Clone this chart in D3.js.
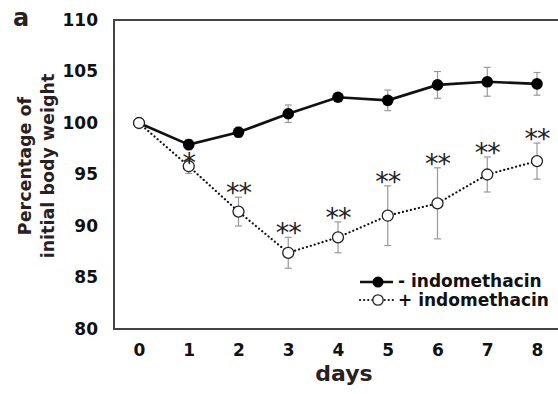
<!DOCTYPE html>
<html><head><meta charset="utf-8">
<script src="https://cdn.jsdelivr.net/npm/d3@7"></script>
<style>
html,body{margin:0;padding:0;background:#fff;}
svg{display:block;font-family:"DejaVu Sans",sans-serif;}
</style></head>
<body><svg id="c" width="558" height="394"></svg>
<script>
const days = [0,1,2,3,4,5,6,7,8];
const yTicks = [80,85,90,95,100,105,110];
const minusMean = [100,97.9,99.1,100.9,102.5,102.2,103.7,104.0,103.8];
const minusErr  = [0,0.5,0.5,0.85,0.3,1.0,1.3,1.4,1.1];
const plusMean  = [100,95.8,91.4,87.4,88.9,91.0,92.2,95.0,96.3];
const plusErr   = [0,0.7,1.4,1.5,1.5,2.9,3.45,1.7,1.75];
const stars     = ["","*","**","**","**","**","**","**","**"];
const seriesNames = ["- indomethacin","+ indomethacin"];

const FONT = "DejaVu Sans, sans-serif";
const svg = d3.select("#c");
const x = d3.scaleLinear().domain([0,8]).range([139,537]);
const y = d3.scaleLinear().domain([80,110]).range([329,20]);
const axisColor = "#444";

// frame: left, top, bottom
svg.append("line").attr("x1",114).attr("x2",114).attr("y1",20).attr("y2",329.5).attr("stroke",axisColor).attr("stroke-width",2);
svg.append("line").attr("x1",113).attr("x2",558).attr("y1",20).attr("y2",20).attr("stroke",axisColor).attr("stroke-width",2);
svg.append("line").attr("x1",113).attr("x2",558).attr("y1",329).attr("y2",329).attr("stroke",axisColor).attr("stroke-width",2);

// y axis labels
const ya = svg.append("g").attr("transform","translate(114,0)")
  .call(d3.axisLeft(y).tickValues(yTicks).tickSize(0).tickPadding(16));
ya.select(".domain").remove();
ya.selectAll("text").attr("font-size",17).attr("font-weight","bold").attr("fill","#111").attr("font-family",FONT);

// x axis labels
const xa = svg.append("g").attr("transform","translate(0,329)")
  .call(d3.axisBottom(x).tickValues(days).tickFormat(d3.format("d")).tickSize(0).tickPadding(15));
xa.select(".domain").remove();
xa.selectAll("text").attr("font-size",17).attr("font-weight","bold").attr("fill","#111").attr("font-family",FONT);

// axis titles
svg.append("text").attr("x",344).attr("y",381).attr("text-anchor","middle")
  .attr("font-size",22).attr("font-weight","bold").attr("fill","#2a2020").text("days");
const yl = svg.append("text").attr("transform","translate(0,166) rotate(-90)")
  .attr("text-anchor","middle").attr("font-size",17.5).attr("font-weight","bold").attr("fill","#2a2020");
yl.append("tspan").attr("x",0).attr("y",31).text("Percentage of");
yl.append("tspan").attr("x",0).attr("y",54).text("initial body weight");

svg.append("text").attr("x",13).attr("y",26).attr("font-size",24).attr("font-weight","bold").attr("fill","#2a2020").text("a");

// error bars
function errBars(mean, err, color){
  const g = svg.append("g").attr("stroke",color).attr("stroke-width",1.2).attr("fill","none");
  days.forEach((d,i)=>{
    if(err[i]<=0) return;
    const xx = x(d), y1 = y(mean[i]+err[i]), y2 = y(mean[i]-err[i]);
    g.append("line").attr("x1",xx).attr("x2",xx).attr("y1",y1).attr("y2",y2);
    g.append("line").attr("x1",xx-3.5).attr("x2",xx+3.5).attr("y1",y1).attr("y2",y1);
    g.append("line").attr("x1",xx-3.5).attr("x2",xx+3.5).attr("y1",y2).attr("y2",y2);
  });
}
errBars(plusMean, plusErr, "#999");
errBars(minusMean, minusErr, "#999");

const line = d3.line().x((d,i)=>x(days[i])).y(d=>y(d));
svg.append("path").datum(plusMean).attr("d",line).attr("fill","none").attr("stroke","#111")
  .attr("stroke-width",2.2).attr("stroke-dasharray","0.1,4").attr("stroke-linecap","round");
svg.append("path").datum(minusMean).attr("d",line).attr("fill","none").attr("stroke","#111")
  .attr("stroke-width",2.6);

// markers
svg.append("g").selectAll("circle").data(minusMean).join("circle")
  .attr("cx",(d,i)=>x(days[i])).attr("cy",d=>y(d)).attr("r",5.8).attr("fill","#000");
svg.append("g").selectAll("circle").data(plusMean).join("circle")
  .attr("cx",(d,i)=>x(days[i])).attr("cy",d=>y(d)).attr("r",5.5).attr("fill","#fff").attr("stroke","#222").attr("stroke-width",1.3);

// significance stars
svg.append("g").selectAll("text").data(stars).join("text")
  .attr("x",(d,i)=>x(days[i])).attr("y",(d,i)=> i===1 ? y(plusMean[i]+plusErr[i])+13 : y(plusMean[i]+plusErr[i])+5)
  .attr("text-anchor","middle").attr("font-size",27).attr("fill","#222")
  .attr("font-family",FONT).attr("letter-spacing",-1)
  .text(d=>d);

// legend
const lg = svg.append("g");
lg.append("line").attr("x1",360).attr("x2",393).attr("y1",282).attr("y2",282).attr("stroke","#111").attr("stroke-width",2.6);
lg.append("circle").attr("cx",378).attr("cy",282).attr("r",5.5).attr("fill","#000");
lg.append("line").attr("x1",360).attr("x2",393).attr("y1",300).attr("y2",300).attr("stroke","#111").attr("stroke-width",2.2)
  .attr("stroke-dasharray","0.1,4").attr("stroke-linecap","round");
lg.append("circle").attr("cx",378).attr("cy",300).attr("r",5.2).attr("fill","#fff").attr("stroke","#222").attr("stroke-width",1.3);
lg.selectAll("text.lt").data(seriesNames).join("text").attr("class","lt")
  .attr("x",398).attr("y",(d,i)=>287+i*19).attr("font-size",17).attr("font-weight","bold").attr("fill","#111").text(d=>d);
</script></body></html>
